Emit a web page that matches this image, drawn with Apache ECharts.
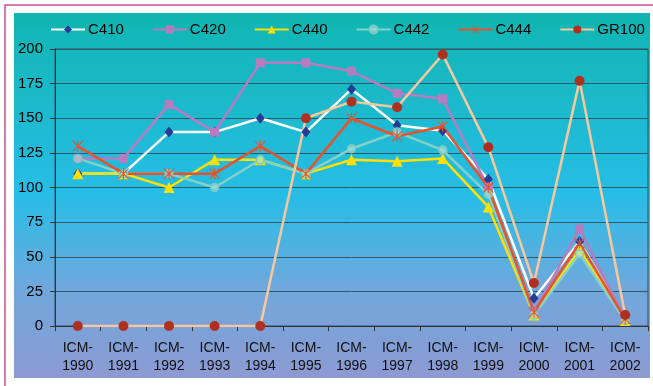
<!DOCTYPE html>
<html>
<head>
<meta charset="utf-8">
<script src="https://cdn.jsdelivr.net/npm/echarts@6/dist/echarts.min.js"></script>
<style>
  html, body { margin: 0; padding: 0; background: #ffffff; }
  #chart { width: 653px; height: 386px; }
</style>
</head>
<body>
<div id="chart"></div>
<script>
// Categories (years) and series values
const categories = ['ICM-1990','ICM-1991','ICM-1992','ICM-1993','ICM-1994','ICM-1995','ICM-1996',
                    'ICM-1997','ICM-1998','ICM-1999','ICM-2000','ICM-2001','ICM-2002'];
const C410  = [110, 110, 140, 140, 150, 140, 171, 145, 141, 106, 20, 61, 5];
const C420  = [121, 121, 160, 140, 190, 190, 184, 168, 164, 100, 10, 70, 5];
const C440  = [110, 110, 100, 120, 120, 110, 120, 119, 121, 86, 8, 55, 4];
const C442  = [121, 110, 110, 100, 120, 110, 128, 140, 127, 95, 8, 52, 4];
const C444  = [130, 110, 110, 110, 130, 110, 150, 137, 144, 100, 10, 60, 5];
const GR100 = [0, 0, 0, 0, 0, 150, 162, 158, 196, 129, 31, 177, 8];
const yTicks = { min: 0, max: 200, step: 25 };

// Asterisk marker: vertical bar plus two diagonals
const asterisk = 'path://M9 0H11V20H9Z M0 1.4L1.4 0L20 18.6L18.6 20Z M18.6 0L20 1.4L1.4 20L0 18.6Z';

const chart = echarts.init(document.getElementById('chart'), null, { renderer: 'canvas' });

function lineSeries(name, data, lineColor, symbol, symbolSize, markerStyle) {
  return {
    name: name,
    type: 'line',
    data: data,
    symbol: symbol,
    symbolSize: symbolSize,
    showAllSymbol: true,
    lineStyle: { color: lineColor, width: 2.5 },
    itemStyle: markerStyle,
    emphasis: { disabled: true },
    animation: false
  };
}

const option = {
  animation: false,
  textStyle: { fontFamily: 'Liberation Sans, Arial, sans-serif' },
  graphic: [
    {
      type: 'rect', z: -100, silent: true,
      shape: { x: 14, y: 13, width: 636, height: 365 },
      style: {
        fill: new echarts.graphic.LinearGradient(0, 0, 0, 1, [
          { offset: 0, color: '#10b6b1' },
          { offset: 0.5, color: '#27bde6' },
          { offset: 0.75, color: '#6fa8dc' },
          { offset: 1, color: '#8c9ad2' }
        ])
      }
    },
    {
      type: 'rect', z: -90, silent: true,
      shape: { x: 5, y: 5, width: 660, height: 400 },
      style: { fill: null, stroke: '#cc4d8a', lineWidth: 1.5 }
    }
  ],
  legend: {
    top: 17,
    left: 45,
    width: 620,
    padding: 5,
    itemWidth: 34,
    itemHeight: 10,
    itemGap: 28,
    textStyle: { fontSize: 15, color: '#000', padding: [0, 0, 0, -2] },
    data: ['C410', 'C420', 'C440', 'C442', 'C444', 'GR100']
  },
  grid: {
    left: 55, right: 5, top: 49, bottom: 60,
    show: true, borderColor: '#2c4f5e', borderWidth: 1, backgroundColor: 'transparent'
  },
  xAxis: {
    type: 'category',
    data: categories,
    boundaryGap: true,
    axisLine: { lineStyle: { color: '#333', width: 1 } },
    axisTick: { show: true, length: 5, lineStyle: { color: '#333' } },
    axisLabel: {
      interval: 0,
      fontSize: 14,
      lineHeight: 18,
      color: '#111',
      margin: 13,
      formatter: v => v.replace('-', '-\n')
    },
    splitLine: { show: false }
  },
  yAxis: {
    type: 'value',
    min: yTicks.min,
    max: yTicks.max,
    interval: yTicks.step,
    axisLine: { show: true, lineStyle: { color: '#333', width: 1 } },
    axisTick: { show: true, length: 5, lineStyle: { color: '#333' } },
    axisLabel: { fontSize: 15, color: '#000', margin: 12 },
    splitLine: { lineStyle: { color: '#2c5a6a', width: 1 } }
  },
  series: [
    lineSeries('C410', C410, '#ffffff', 'diamond', [9, 11], { color: '#233c96' }),
    lineSeries('C420', C420, '#b77cc0', 'rect', 9, { color: '#b77cc0' }),
    lineSeries('C440', C440, '#ffe000', 'triangle', 11, { color: '#ffe000' }),
    lineSeries('C442', C442, '#86d0c8', 'circle', 8, { color: 'rgba(170,225,220,0.6)', borderWidth: 1.5, borderColor: '#7ec9c1' }),
    lineSeries('C444', C444, '#e8522a', asterisk, 11, { color: '#e8522a' }),
    lineSeries('GR100', GR100, '#f8c89c', 'circle', 10, { color: '#b0301f' })
  ]
};

chart.setOption(option);
</script>
</body>
</html>
